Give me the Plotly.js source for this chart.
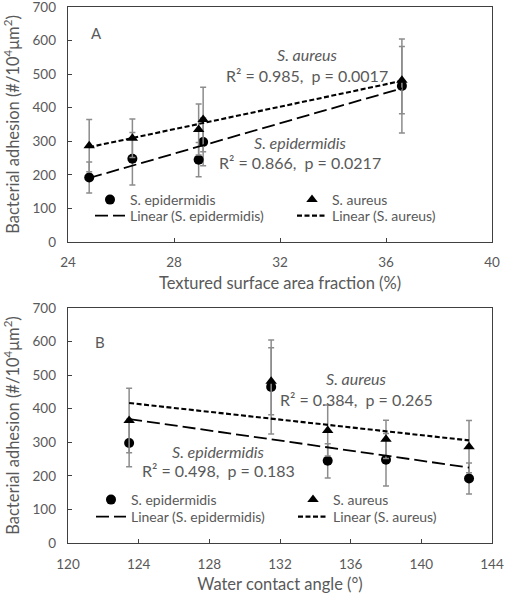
<!DOCTYPE html>
<html><head><meta charset="utf-8">
<script src="https://cdn.plot.ly/plotly-3.0.1.min.js"></script>
<style>html,body{margin:0;padding:0;background:#fff}#chart{width:507px;height:600px}</style>
</head><body><div id="chart"></div>
<script>
// Data
const areaFraction = [24.8, 26.43, 28.93, 29.1, 36.6];      // panel A x (%)
const contactAngle = [142.7, 138.0, 134.7, 123.46, 131.5];  // panel B x (deg)
const epidermidis = [192, 248, 245, 298, 465];
const epidermidisErr = [46, 78, 51, 71, 140];
const aureus = [287, 309, 335, 365, 482];
const aureusErr = [78, 57, 76, 96, 100];
const seriesNames = ['S. epidermidis', 'S. aureus'];
const statsA = ['R² = 0.985,\u00a0 p = 0.0017', 'R² = 0.866,\u00a0 p = 0.0217'];
const statsB = ['R² = 0.384,\u00a0 p = 0.265', 'R² = 0.498,\u00a0 p = 0.183'];

function fitLine(x, y) {
  const n = x.length;
  const mx = x.reduce((a, b) => a + b, 0) / n;
  const my = y.reduce((a, b) => a + b, 0) / n;
  let sxy = 0, sxx = 0;
  for (let i = 0; i < n; i++) { sxy += (x[i] - mx) * (y[i] - my); sxx += (x[i] - mx) ** 2; }
  const s = sxy / sxx, b = my - s * mx;
  const x0 = Math.min(...x), x1 = Math.max(...x);
  return { x: [x0, x1], y: [b + s * x0, b + s * x1] };
}

const font = 'Lato, "Noto Sans", sans-serif';
const gray = '#595959';
const errStyle = { type: 'data', visible: true, color: '#8c8c8c', thickness: 1.5, width: 3 };

// legs: ids of the legends for [markers epi, markers aureus, line epi, line aureus]
function panelTraces(xv, xa, ya, legs) {
  const fe = fitLine(xv, epidermidis), fa = fitLine(xv, aureus);
  return [
    { x: xv, y: epidermidis, xaxis: xa, yaxis: ya, legend: legs[0], type: 'scatter', mode: 'markers', name: seriesNames[0],
      marker: { symbol: 'circle', size: 10, color: '#000' }, error_y: Object.assign({ array: epidermidisErr }, errStyle) },
    { x: xv, y: aureus, xaxis: xa, yaxis: ya, legend: legs[1], type: 'scatter', mode: 'markers', name: seriesNames[1],
      marker: { symbol: 'triangle-up', size: 10, color: '#000' }, error_y: Object.assign({ array: aureusErr }, errStyle) },
    { x: fe.x, y: fe.y, xaxis: xa, yaxis: ya, legend: legs[2], type: 'scatter', mode: 'lines', name: 'Linear (' + seriesNames[0] + ')',
      line: { color: '#000', width: 1.8, dash: '13px,5px' } },
    { x: fa.x, y: fa.y, xaxis: xa, yaxis: ya, legend: legs[3], type: 'scatter', mode: 'lines', name: 'Linear (' + seriesNames[1] + ')',
      line: { color: '#000', width: 2.1, dash: '5px,2.5px' } }
  ];
}

const data = [].concat(
  panelTraces(areaFraction, 'x', 'y', ['legend', 'legend2', 'legend3', 'legend4']),
  panelTraces(contactAngle, 'x2', 'y2', ['legend5', 'legend6', 'legend7', 'legend8']));

// pixel -> paper helpers
const L = 68, T = 7, W = 424, H = 536;
const px = v => (v - L) / W;
const py = v => 1 - (v - T) / H;

const axisCommon = {
  showline: true, mirror: true, linecolor: '#404040', linewidth: 1.3,
  ticks: 'inside', ticklen: 4, tickcolor: '#404040', showgrid: false, zeroline: false,
  tickfont: { family: font, size: 13.5, color: gray }, ticklabelstandoff: 8, ticklabeloverflow: 'allow'
};
const yTitle = 'Bacterial adhesion (#/10<sup>4</sup>μm<sup>2</sup>)';
const titleFont = { family: font, size: 16.5, color: gray };

function ann(x, y, text, size, italic) {
  return { xref: 'paper', yref: 'paper', x: px(x), y: py(y), xanchor: 'center', yanchor: 'middle', showarrow: false,
    text: italic ? '<i>' + text + '</i>' : text, font: { family: font, size: size, color: gray } };
}

// single-entry legend whose symbol is centred near (cx, cy) in pixels
function legendAt(cx, cy) {
  return { orientation: 'h', x: px(cx - 20), y: py(cy - 16), xanchor: 'left', yanchor: 'top',
    bgcolor: 'rgba(0,0,0,0)', borderwidth: 0, font: { family: font, size: 14, color: gray } };
}

const layout = {
  width: 507, height: 600, margin: { l: L, r: 15, t: T, b: 57 },
  paper_bgcolor: '#fff', plot_bgcolor: '#fff', font: { family: font, color: gray }, showlegend: true,
  xaxis: Object.assign({}, axisCommon, { range: [24, 40], tick0: 24, dtick: 4, anchor: 'y', domain: [0, 1],
    title: { text: 'Textured surface area fraction (%)', font: titleFont, standoff: 8 } }),
  yaxis: Object.assign({}, axisCommon, { range: [0, 700], dtick: 100, anchor: 'x', domain: [0.5616, 1],
    title: { text: yTitle, font: titleFont, standoff: 8 } }),
  xaxis2: Object.assign({}, axisCommon, { range: [120, 144], tick0: 120, dtick: 4, anchor: 'y2', domain: [0, 1],
    title: { text: 'Water contact angle (°)', font: titleFont, standoff: 8 } }),
  yaxis2: Object.assign({}, axisCommon, { range: [0, 700], dtick: 100, anchor: 'x2', domain: [0, 0.4384],
    title: { text: yTitle, font: titleFont, standoff: 8 } }),
  legend: legendAt(110, 200),
  legend2: legendAt(312, 200),
  legend3: legendAt(110, 216),
  legend4: legendAt(312, 216),
  legend5: legendAt(111, 500),
  legend6: legendAt(313, 500),
  legend7: legendAt(111, 517),
  legend8: legendAt(313, 517),
  annotations: [
    ann(96, 33, 'A', 15, false),
    ann(307, 54, seriesNames[1], 16, true),
    ann(307, 75, statsA[0], 16, false),
    ann(300, 142, seriesNames[0], 16, true),
    ann(300, 162, statsA[1], 16, false),
    ann(100, 342, 'B', 15, false),
    ann(356, 378, seriesNames[1], 16, true),
    ann(356, 399, statsB[0], 16, false),
    ann(218, 451, seriesNames[0], 16, true),
    ann(218, 471, statsB[1], 16, false)
  ]
};

Plotly.newPlot('chart', data, layout, { displayModeBar: false, staticPlot: true });
</script>
</body></html>
